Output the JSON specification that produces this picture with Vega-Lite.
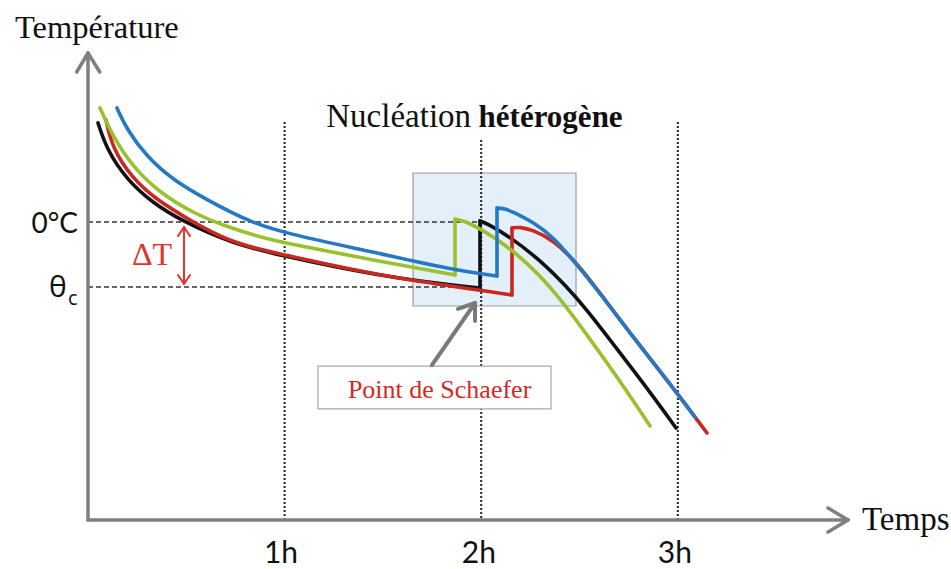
{
  "$schema": "https://vega.github.io/schema/vega-lite/v6.json",
  "width": 951,
  "height": 569,
  "autosize": {"type": "none"},
  "padding": 0,
  "background": "white",
  "config": {"view": {"stroke": null}},
  "datasets": {
    "curves": [
      {"c": "black", "s": 1, "x": 3.05, "y": 7.62},
      {"c": "black", "s": 1, "x": 5.80, "y": 5.54},
      {"c": "black", "s": 1, "x": 11.90, "y": 3.23},
      {"c": "black", "s": 1, "x": 19.84, "y": 1.46},
      {"c": "black", "s": 1, "x": 28.08, "y": 0.15},
      {"c": "black", "s": 1, "x": 44.25, "y": -1.69},
      {"c": "black", "s": 1, "x": 59.82, "y": -2.62},
      {"c": "black", "s": 1, "x": 76.91, "y": -3.54},
      {"c": "black", "s": 1, "x": 97.36, "y": -4.46},
      {"c": "black", "s": 1, "x": 119.63, "y": -5.08},
      {"c": "black", "s": 2, "x": 119.63, "y": -5.08},
      {"c": "black", "s": 2, "x": 119.63, "y": 0.08},
      {"c": "black", "s": 3, "x": 119.63, "y": 0.08},
      {"c": "black", "s": 3, "x": 122.07, "y": -0.15},
      {"c": "black", "s": 3, "x": 128.79, "y": -1.15},
      {"c": "black", "s": 3, "x": 137.94, "y": -2.92},
      {"c": "black", "s": 3, "x": 146.18, "y": -5.0},
      {"c": "black", "s": 3, "x": 152.29, "y": -6.77},
      {"c": "black", "s": 3, "x": 161.44, "y": -9.77},
      {"c": "black", "s": 3, "x": 171.52, "y": -13.08},
      {"c": "black", "s": 3, "x": 179.45, "y": -15.85},

      {"c": "red", "s": 1, "x": 5.49, "y": 7.85},
      {"c": "red", "s": 1, "x": 7.32, "y": 5.77},
      {"c": "red", "s": 1, "x": 13.12, "y": 3.46},
      {"c": "red", "s": 1, "x": 21.06, "y": 1.69},
      {"c": "red", "s": 1, "x": 28.08, "y": 0.62},
      {"c": "red", "s": 1, "x": 34.18, "y": -0.31},
      {"c": "red", "s": 1, "x": 44.25, "y": -1.62},
      {"c": "red", "s": 1, "x": 59.82, "y": -2.54},
      {"c": "red", "s": 1, "x": 76.91, "y": -3.46},
      {"c": "red", "s": 1, "x": 97.36, "y": -4.46},
      {"c": "red", "s": 1, "x": 119.63, "y": -5.23},
      {"c": "red", "s": 1, "x": 129.40, "y": -5.62},
      {"c": "red", "s": 2, "x": 129.40, "y": -5.62},
      {"c": "red", "s": 2, "x": 129.40, "y": -0.46},
      {"c": "red", "s": 3, "x": 129.40, "y": -0.46},
      {"c": "red", "s": 3, "x": 131.84, "y": -0.38},
      {"c": "red", "s": 3, "x": 135.81, "y": -0.62},
      {"c": "red", "s": 3, "x": 141.91, "y": -1.38},
      {"c": "red", "s": 3, "x": 149.24, "y": -3.15},
      {"c": "red", "s": 3, "x": 156.25, "y": -5.46},
      {"c": "red", "s": 3, "x": 166.32, "y": -8.85},
      {"c": "red", "s": 3, "x": 176.70, "y": -12.15},
      {"c": "red", "s": 3, "x": 188.91, "y": -16.23},

      {"c": "green", "s": 1, "x": 3.66, "y": 8.77},
      {"c": "green", "s": 1, "x": 7.63, "y": 6.54},
      {"c": "green", "s": 1, "x": 13.73, "y": 4.23},
      {"c": "green", "s": 1, "x": 21.97, "y": 2.23},
      {"c": "green", "s": 1, "x": 32.04, "y": 0.69},
      {"c": "green", "s": 1, "x": 42.42, "y": -0.38},
      {"c": "green", "s": 1, "x": 52.49, "y": -1.15},
      {"c": "green", "s": 1, "x": 59.82, "y": -1.62},
      {"c": "green", "s": 1, "x": 86.98, "y": -2.92},
      {"c": "green", "s": 1, "x": 112.00, "y": -4.08},
      {"c": "green", "s": 2, "x": 112.00, "y": -4.08},
      {"c": "green", "s": 2, "x": 112.00, "y": 0.23},
      {"c": "green", "s": 3, "x": 112.00, "y": 0.23},
      {"c": "green", "s": 3, "x": 114.14, "y": 0.15},
      {"c": "green", "s": 3, "x": 120.55, "y": -0.62},
      {"c": "green", "s": 3, "x": 128.79, "y": -2.0},
      {"c": "green", "s": 3, "x": 137.94, "y": -4.08},
      {"c": "green", "s": 3, "x": 145.57, "y": -6.38},
      {"c": "green", "s": 3, "x": 153.20, "y": -9.0},
      {"c": "green", "s": 3, "x": 162.36, "y": -12.23},
      {"c": "green", "s": 3, "x": 171.52, "y": -15.69},

      {"c": "blue", "s": 1, "x": 8.85, "y": 8.77},
      {"c": "blue", "s": 1, "x": 11.90, "y": 7.08},
      {"c": "blue", "s": 1, "x": 18.01, "y": 5.0},
      {"c": "blue", "s": 1, "x": 25.94, "y": 3.23},
      {"c": "blue", "s": 1, "x": 36.32, "y": 1.69},
      {"c": "blue", "s": 1, "x": 49.44, "y": 0.0},
      {"c": "blue", "s": 1, "x": 59.82, "y": -0.85},
      {"c": "blue", "s": 1, "x": 86.98, "y": -2.31},
      {"c": "blue", "s": 1, "x": 111.39, "y": -3.69},
      {"c": "blue", "s": 1, "x": 124.82, "y": -4.15},
      {"c": "blue", "s": 2, "x": 124.82, "y": -4.15},
      {"c": "blue", "s": 2, "x": 124.82, "y": 1.08},
      {"c": "blue", "s": 3, "x": 124.82, "y": 1.08},
      {"c": "blue", "s": 3, "x": 127.57, "y": 1.0},
      {"c": "blue", "s": 3, "x": 129.70, "y": 0.77},
      {"c": "blue", "s": 3, "x": 135.81, "y": 0.0},
      {"c": "blue", "s": 3, "x": 141.91, "y": -1.15},
      {"c": "blue", "s": 3, "x": 148.01, "y": -2.92},
      {"c": "blue", "s": 3, "x": 156.25, "y": -5.46},
      {"c": "blue", "s": 3, "x": 166.32, "y": -8.85},
      {"c": "blue", "s": 3, "x": 176.70, "y": -12.15},
      {"c": "blue", "s": 3, "x": 185.25, "y": -15.0}
    ],
    "segs": [
      {"k": "axis", "x": 0, "y": -22.92, "x2": 0, "y2": 13.0},
      {"k": "axis", "x": 0, "y": -22.92, "x2": 231.94, "y2": -22.92},
      {"k": "axis", "x": 0, "y": 13.0, "x2": -3.45, "y2": 11.54},
      {"k": "axis", "x": 0, "y": 13.0, "x2": 3.6, "y2": 11.54},
      {"k": "axis", "x": 231.94, "y": -22.92, "x2": 225.84, "y2": -22.0},
      {"k": "axis", "x": 231.94, "y": -22.92, "x2": 225.84, "y2": -23.85},
      {"k": "dot", "x": 60, "y": 7.69, "x2": 60, "y2": -22.92},
      {"k": "dot", "x": 120, "y": 6.31, "x2": 120, "y2": -22.92},
      {"k": "dot", "x": 180, "y": 7.69, "x2": 180, "y2": -22.92},
      {"k": "dash", "x": 0, "y": 0, "x2": 119.63, "y2": 0},
      {"k": "dash", "x": 0, "y": -5.0, "x2": 119.63, "y2": -5.0},
      {"k": "delta", "x": 29.3, "y": -0.38, "x2": 29.3, "y2": -4.77},
      {"k": "delta", "x": 29.3, "y": -0.38, "x2": 27.47, "y2": -1.08},
      {"k": "delta", "x": 29.3, "y": -0.38, "x2": 31.13, "y2": -1.08},
      {"k": "delta", "x": 29.3, "y": -4.77, "x2": 27.47, "y2": -4.08},
      {"k": "delta", "x": 29.3, "y": -4.77, "x2": 31.13, "y2": -4.08},
      {"k": "pointer", "x": 104.98, "y": -11.0, "x2": 118.11, "y2": -6.23},
      {"k": "pointer", "x": 118.11, "y": -6.23, "x2": 112.92, "y2": -6.69},
      {"k": "pointer", "x": 118.11, "y": -6.23, "x2": 118.11, "y2": -7.62}
    ],
    "boxes": [
      {"k": "zone", "x": 99.19, "x2": 148.93, "y": 3.77, "y2": -6.46},
      {"k": "label", "x": 70.19, "x2": 141.30, "y": -11.08, "y2": -14.38}
    ],
    "texts": [
      {"k": "serifL", "t": "Température", "x": -22.28, "y": 14.15},
      {"k": "temps", "t": "Temps", "x": 236.21, "y": -23.69},
      {"k": "serifR", "t": "Nucléation", "x": 116.9, "y": 7.31},
      {"k": "bold", "t": "hétérogène", "x": 119.2, "y": 7.31},
      {"k": "schaefer", "t": "Point de Schaefer", "x": 107.3, "y": -13.54},
      {"k": "delta", "t": "ΔT", "x": 13.43, "y": -3.31},
      {"k": "zero", "t": "0°C", "x": -3.05, "y": -0.85},
      {"k": "theta", "t": "θ", "x": -11.9, "y": -5.77},
      {"k": "sub", "t": "c", "x": -6.1, "y": -6.38},
      {"k": "tick", "t": "1h", "x": 58.9, "y": -26.23},
      {"k": "tick", "t": "2h", "x": 119.3, "y": -26.23},
      {"k": "tick", "t": "3h", "x": 179.1, "y": -26.23}
    ]
  },
  "encoding": {
    "x": {"field": "x", "type": "quantitative", "scale": {"domain": [-26.856, 263.37], "nice": false, "zero": false}, "axis": null},
    "y": {"field": "y", "type": "quantitative", "scale": {"domain": [-26.692, 17.077], "nice": false, "zero": false}, "axis": null}
  },
  "layer": [
    {
      "data": {"name": "boxes"},
      "transform": [{"filter": "datum.k === 'zone'"}],
      "mark": {"type": "rect", "fill": "#e3f0f9", "stroke": "#9b9b9b", "strokeWidth": 1.2},
      "encoding": {"x2": {"field": "x2"}, "y2": {"field": "y2"}}
    },
    {
      "data": {"name": "segs"},
      "transform": [{"filter": "datum.k === 'dot'"}],
      "mark": {"type": "rule", "color": "#222222", "strokeWidth": 2, "strokeDash": [2, 2]},
      "encoding": {"x2": {"field": "x2"}, "y2": {"field": "y2"}}
    },
    {
      "data": {"name": "boxes"},
      "transform": [{"filter": "datum.k === 'label'"}],
      "mark": {"type": "rect", "fill": "#ffffff", "stroke": "#a8a8a8", "strokeWidth": 1.2},
      "encoding": {"x2": {"field": "x2"}, "y2": {"field": "y2"}}
    },
    {
      "data": {"name": "segs"},
      "transform": [{"filter": "datum.k === 'dash'"}],
      "mark": {"type": "rule", "color": "#333333", "strokeWidth": 1.5, "strokeDash": [5, 3]},
      "encoding": {"x2": {"field": "x2"}, "y2": {"field": "y2"}}
    },
    {
      "data": {"name": "segs"},
      "transform": [{"filter": "datum.k === 'axis'"}],
      "mark": {"type": "rule", "color": "#7f7f7f", "strokeWidth": 3.5, "strokeCap": "round"},
      "encoding": {"x2": {"field": "x2"}, "y2": {"field": "y2"}}
    },
    {
      "data": {"name": "curves"},
      "transform": [{"filter": "datum.c === 'black'"}],
      "mark": {"type": "line", "color": "#111111", "strokeWidth": 3.6, "interpolate": "basis", "strokeCap": "round", "strokeJoin": "round"},
      "encoding": {"detail": {"field": "s"}}
    },
    {
      "data": {"name": "curves"},
      "transform": [{"filter": "datum.c === 'red'"}],
      "mark": {"type": "line", "color": "#c8281f", "strokeWidth": 3.6, "interpolate": "basis", "strokeCap": "round", "strokeJoin": "round"},
      "encoding": {"detail": {"field": "s"}}
    },
    {
      "data": {"name": "curves"},
      "transform": [{"filter": "datum.c === 'green'"}],
      "mark": {"type": "line", "color": "#99c12e", "strokeWidth": 3.6, "interpolate": "basis", "strokeCap": "round", "strokeJoin": "round"},
      "encoding": {"detail": {"field": "s"}}
    },
    {
      "data": {"name": "curves"},
      "transform": [{"filter": "datum.c === 'blue'"}],
      "mark": {"type": "line", "color": "#2379c3", "strokeWidth": 3.6, "interpolate": "basis", "strokeCap": "round", "strokeJoin": "round"},
      "encoding": {"detail": {"field": "s"}}
    },
    {
      "data": {"name": "segs"},
      "transform": [{"filter": "datum.k === 'delta'"}],
      "mark": {"type": "rule", "color": "#e8332a", "strokeWidth": 2, "strokeCap": "round"},
      "encoding": {"x2": {"field": "x2"}, "y2": {"field": "y2"}}
    },
    {
      "data": {"name": "segs"},
      "transform": [{"filter": "datum.k === 'pointer'"}],
      "mark": {"type": "rule", "color": "#7a7a7a", "strokeWidth": 4, "strokeCap": "round"},
      "encoding": {"x2": {"field": "x2"}, "y2": {"field": "y2"}}
    },
    {
      "data": {"name": "texts"},
      "transform": [{"filter": "datum.k === 'serifL'"}],
      "mark": {"type": "text", "font": "Liberation Serif", "fontSize": 32.5, "align": "left", "baseline": "alphabetic", "color": "#111111"},
      "encoding": {"text": {"field": "t"}}
    },
    {
      "data": {"name": "texts"},
      "transform": [{"filter": "datum.k === 'temps'"}],
      "mark": {"type": "text", "font": "Liberation Serif", "fontSize": 33, "align": "left", "baseline": "alphabetic", "color": "#111111"},
      "encoding": {"text": {"field": "t"}}
    },
    {
      "data": {"name": "texts"},
      "transform": [{"filter": "datum.k === 'serifR'"}],
      "mark": {"type": "text", "font": "Liberation Serif", "fontSize": 33, "align": "right", "baseline": "alphabetic", "color": "#111111"},
      "encoding": {"text": {"field": "t"}}
    },
    {
      "data": {"name": "texts"},
      "transform": [{"filter": "datum.k === 'bold'"}],
      "mark": {"type": "text", "font": "Liberation Serif", "fontSize": 31, "fontWeight": "bold", "align": "left", "baseline": "alphabetic", "color": "#111111"},
      "encoding": {"text": {"field": "t"}}
    },
    {
      "data": {"name": "texts"},
      "transform": [{"filter": "datum.k === 'schaefer'"}],
      "mark": {"type": "text", "font": "Liberation Serif", "fontSize": 26, "align": "center", "baseline": "alphabetic", "color": "#d42a22"},
      "encoding": {"text": {"field": "t"}}
    },
    {
      "data": {"name": "texts"},
      "transform": [{"filter": "datum.k === 'delta'"}],
      "mark": {"type": "text", "font": "Liberation Serif", "fontSize": 32, "align": "left", "baseline": "alphabetic", "color": "#e4312b"},
      "encoding": {"text": {"field": "t"}}
    },
    {
      "data": {"name": "texts"},
      "transform": [{"filter": "datum.k === 'zero'"}],
      "mark": {"type": "text", "font": "Lato", "fontSize": 28, "align": "right", "baseline": "alphabetic", "color": "#111111"},
      "encoding": {"text": {"field": "t"}}
    },
    {
      "data": {"name": "texts"},
      "transform": [{"filter": "datum.k === 'theta'"}],
      "mark": {"type": "text", "font": "Open Sans", "fontSize": 30, "align": "left", "baseline": "alphabetic", "color": "#111111"},
      "encoding": {"text": {"field": "t"}}
    },
    {
      "data": {"name": "texts"},
      "transform": [{"filter": "datum.k === 'sub'"}],
      "mark": {"type": "text", "font": "Open Sans", "fontSize": 20, "align": "left", "baseline": "alphabetic", "color": "#111111"},
      "encoding": {"text": {"field": "t"}}
    },
    {
      "data": {"name": "texts"},
      "transform": [{"filter": "datum.k === 'tick'"}],
      "mark": {"type": "text", "font": "Lato", "fontSize": 30, "align": "center", "baseline": "alphabetic", "color": "#111111"},
      "encoding": {"text": {"field": "t"}}
    }
  ]
}
